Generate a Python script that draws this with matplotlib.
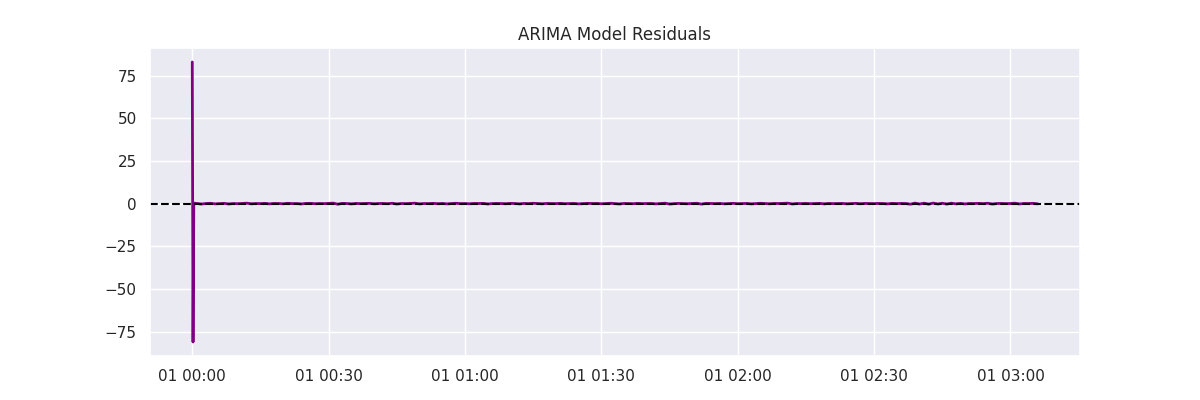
import datetime as dt
import matplotlib.pyplot as plt
import matplotlib.ticker as mticker
import seaborn as sns

sns.set_theme(style="darkgrid")

start = dt.datetime(2024, 1, 1, 0, 0, 0)

# first few residuals (10 s apart) - the big start-up spike
spike_seconds = [0, 10, 20]
spike_resid = [83.0, -81.0, 0.3]

# residuals sampled each minute afterwards (minutes 1..186)
minute_resid = [
    0.15, -0.2, 0.1, 0.25, -0.1, 0.05, 0.2, -0.15, 0.1, 0.0,
    0.15, 0.3, -0.05, 0.1, 0.05, 0.2, -0.1, 0.15, 0.1, -0.05,
    0.25, 0.05, 0.1, -0.15, 0.15, 0.2, 0.0, 0.1, 0.05, 0.15,
    0.35, -0.3, 0.2, 0.1, -0.1, 0.15, 0.05, 0.1, 0.2, -0.05,
    0.1, 0.15, 0.0, 0.25, -0.15, 0.1, 0.05, 0.15, 0.3, -0.1,
    0.1, 0.05, 0.2, 0.0, 0.15, -0.1, 0.1, 0.25, 0.05, 0.1,
    -0.05, 0.15, 0.1, 0.2, -0.15, 0.05, 0.15, 0.1, 0.0, 0.2,
    0.1, -0.1, 0.15, 0.05, 0.25, 0.1, -0.05, 0.15, 0.1, 0.05,
    0.2, 0.0, 0.1, 0.15, -0.1, 0.05, 0.2, 0.1, 0.15, -0.05,
    0.1, 0.25, 0.05, -0.15, 0.15, 0.1, 0.0, 0.2, 0.05, 0.1,
    0.15, -0.1, 0.1, 0.3, -0.2, 0.05, 0.15, 0.1, 0.0, 0.15,
    0.25, -0.25, 0.2, 0.1, 0.05, 0.15, -0.05, 0.1, 0.2, 0.0,
    0.1, 0.15, -0.1, 0.05, 0.25, 0.1, -0.05, 0.15, 0.1, 0.2,
    0.3, -0.15, 0.1, 0.05, 0.15, 0.0, 0.1, 0.2, -0.1, 0.15,
    0.05, 0.1, 0.15, -0.05, 0.1, 0.2, 0.0, 0.15, 0.1, 0.05,
    0.15, 0.1, -0.1, 0.2, 0.05, 0.15, 0.1, -0.3, 0.35, -0.2,
    0.3, -0.25, 0.35, -0.15, 0.25, -0.2, 0.3, -0.1, 0.2, -0.15,
    0.15, 0.1, 0.2, 0.05, 0.25, -0.2, 0.1, 0.15, 0.05, 0.1,
    0.3, -0.15, 0.15, 0.1, 0.2, -0.1,
]

times = [start + dt.timedelta(seconds=s) for s in spike_seconds]
times += [start + dt.timedelta(minutes=m) for m in range(1, len(minute_resid) + 1)]
resid = spike_resid + minute_resid

fig, ax = plt.subplots(figsize=(12, 4), dpi=100)
ax.plot(times, resid, color="purple", linewidth=2)
ax.axhline(0, color="black", linestyle="--", linewidth=1.5)
ax.yaxis.set_major_locator(mticker.MultipleLocator(25))
ax.set_title("ARIMA Model Residuals")
fig.savefig("out.png")
